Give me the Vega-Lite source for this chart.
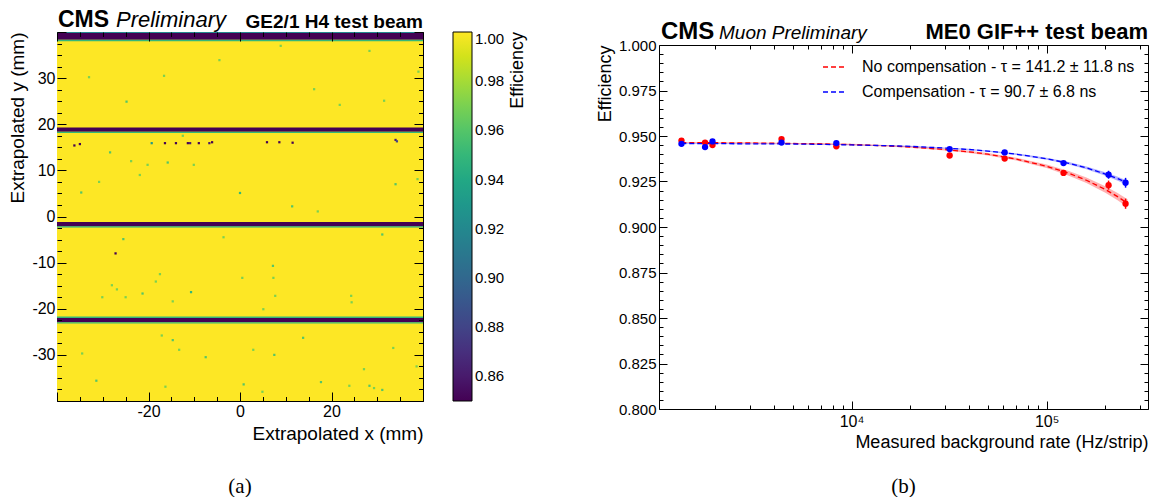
{
  "$schema": "https://vega.github.io/schema/vega-lite/v6.json",
  "padding": {"left": 8, "top": 8, "right": 0, "bottom": 0},
  "background": "#ffffff",
  "spacing": 236,
  "bounds": "flush",
  "config": {
    "font": "Liberation Sans",
    "view": {"stroke": "#000000", "strokeWidth": 1},
    "axis": {"grid": false, "domain": false, "tickColor": "#000000", "labelColor": "#000000", "titleColor": "#000000", "titleFontWeight": "normal", "labelFont": "Liberation Sans", "titleFont": "Liberation Sans", "labelOverlap": false, "labelFlush": false, "domainColor": "#000000", "domainWidth": 1},
    "legend": {"labelFont": "Liberation Sans", "titleFont": "Liberation Sans", "labelColor": "#000000", "titleColor": "#000000"}
  },
  "resolve": {"scale": {"color": "independent"}, "legend": {"color": "independent"}},
  "hconcat": [
    {
      "width": 366,
      "height": 369,
      "title": {"text": "(a)", "orient": "bottom", "font": "Liberation Serif", "fontSize": 21, "fontWeight": "normal", "color": "#000000", "offset": 32},
      "layer": [
        {
          "data": {"values": [
            {"x": -40, "x2": 40, "y": -40, "y2": 40, "eff": 1.0},
            {"x": -40, "x2": 40, "y": 38.3, "y2": 39.8, "eff": 0.85},
            {"x": -40, "x2": 40, "y": 39.8, "y2": 40.0, "eff": 0.92},
            {"x": -40, "x2": 40, "y": 38.0, "y2": 38.3, "eff": 0.95},
            {"x": -40, "x2": 40, "y": 18.4, "y2": 19.3, "eff": 0.85},
            {"x": -40, "x2": 40, "y": 18.1, "y2": 18.4, "eff": 0.95},
            {"x": -40, "x2": 40, "y": -2.1, "y2": -1.2, "eff": 0.85},
            {"x": -40, "x2": 40, "y": -2.4, "y2": -2.1, "eff": 0.94},
            {"x": -40, "x2": 40, "y": -22.9, "y2": -22.0, "eff": 0.85},
            {"x": -40, "x2": 40, "y": -22.0, "y2": -21.7, "eff": 0.95},
            {"x": -40, "x2": 40, "y": -23.2, "y2": -22.9, "eff": 0.95}
          ]},
          "mark": {"type": "rect"},
          "encoding": {
            "x": {"field": "x", "type": "quantitative", "scale": {"domain": [-40, 40], "nice": false, "zero": false},
              "axis": {"orient": "bottom", "zindex": 1, "values": [-40,-35,-30,-25,-20,-15,-10,-5,0,5,10,15,20,25,30,35,40],
                "labelExpr": "(datum.value % 20 === 0 && abs(datum.value) < 40) ? toString(datum.value) : ''",
                "tickSize": {"condition": {"test": "datum.value % 20 === 0", "value": -9}, "value": -4.5},
                "labelPadding": 11, "labelFontSize": 16, "title": "Extrapolated x (mm)", "titleFontSize": 19, "titleAnchor": "end", "titlePadding": 1}},
            "x2": {"field": "x2"},
            "y": {"field": "y", "type": "quantitative", "scale": {"domain": [-40, 40], "nice": false, "zero": false},
              "axis": {"orient": "left", "zindex": 1, "values": [-40,-37.5,-35,-32.5,-30,-27.5,-25,-22.5,-20,-17.5,-15,-12.5,-10,-7.5,-5,-2.5,0,2.5,5,7.5,10,12.5,15,17.5,20,22.5,25,27.5,30,32.5,35,37.5,40],
                "labelExpr": "(datum.value % 10 === 0 && abs(datum.value) < 40) ? toString(datum.value) : ''",
                "tickSize": {"condition": {"test": "datum.value % 10 === 0", "value": -9}, "value": -4.5},
                "labelPadding": 11, "labelFontSize": 16, "title": "Extrapolated y (mm)", "titleFontSize": 19, "titleAnchor": "end", "titlePadding": 4}},
            "y2": {"field": "y2"},
            "color": {"field": "eff", "type": "quantitative", "scale": {"scheme": "viridis", "domain": [0.85, 1.0], "clamp": true},
              "legend": {"type": "gradient", "direction": "vertical", "orient": "right", "offset": 29, "gradientLength": 369, "gradientThickness": 19, "gradientStrokeColor": "#000000", "gradientStrokeWidth": 1,
                "values": [0.86, 0.88, 0.9, 0.92, 0.94, 0.96, 0.98, 1.0], "format": ".2f", "labelFontSize": 15, "labelOffset": 3,
                "title": "Efficiency", "titleOrient": "right", "titleFontSize": 18, "titleFontWeight": "normal", "titleAnchor": "end", "titlePadding": 5,
                "encode": {"title": {"update": {"angle": {"value": -90}, "align": {"value": "right"}, "baseline": {"value": "top"}}}}}}
          }
        },
        {
          "data": {"values": [
            {"x": -36.2, "y": 15.4, "eff": 0.85}, {"x": -35.0, "y": 15.7, "eff": 0.85}, {"x": -19.3, "y": 15.9, "eff": 0.93},
            {"x": -16.4, "y": 15.9, "eff": 0.85}, {"x": -14.0, "y": 15.9, "eff": 0.85}, {"x": -11.4, "y": 15.9, "eff": 0.85},
            {"x": -10.9, "y": 15.9, "eff": 0.86}, {"x": -9.0, "y": 15.9, "eff": 0.85}, {"x": -6.7, "y": 15.9, "eff": 0.86},
            {"x": -6.1, "y": 16.1, "eff": 0.85}, {"x": 5.9, "y": 16.1, "eff": 0.85}, {"x": 8.6, "y": 16.1, "eff": 0.85},
            {"x": 11.5, "y": 16.0, "eff": 0.85}, {"x": 34.0, "y": 16.6, "eff": 0.86}, {"x": 34.3, "y": 16.3, "eff": 0.88},
            {"x": -27.2, "y": -8.0, "eff": 0.85},
            {"x": -24.8, "y": 24.9, "eff": 0.96}, {"x": -28.4, "y": 13.9, "eff": 0.96}, {"x": -33.0, "y": 30.2, "eff": 0.97},
            {"x": -30.8, "y": 7.5, "eff": 0.97}, {"x": -34.7, "y": 5.2, "eff": 0.96}, {"x": -23.8, "y": 12.0, "eff": 0.97},
            {"x": -20.2, "y": 11.2, "eff": 0.97}, {"x": -15.8, "y": 11.7, "eff": 0.96}, {"x": -10.1, "y": 11.2, "eff": 0.97},
            {"x": -21.9, "y": 9.0, "eff": 0.97}, {"x": 0.0, "y": 5.1, "eff": 0.95}, {"x": 11.4, "y": 2.2, "eff": 0.96},
            {"x": 17.0, "y": 1.1, "eff": 0.97}, {"x": 34.0, "y": 7.0, "eff": 0.96}, {"x": 38.8, "y": 8.1, "eff": 0.97},
            {"x": 39.0, "y": 31.4, "eff": 0.97}, {"x": 28.3, "y": 35.9, "eff": 0.97}, {"x": 8.9, "y": 37.0, "eff": 0.97},
            {"x": -4.5, "y": 33.9, "eff": 0.97}, {"x": -16.6, "y": 30.5, "eff": 0.97}, {"x": 16.2, "y": 27.6, "eff": 0.97},
            {"x": 21.8, "y": 24.2, "eff": 0.97}, {"x": 31.5, "y": 25.1, "eff": 0.97}, {"x": -12.5, "y": 17.5, "eff": 0.97},
            {"x": -25.5, "y": -4.9, "eff": 0.96}, {"x": 31.1, "y": -3.9, "eff": 0.96}, {"x": -3.6, "y": -4.5, "eff": 0.97},
            {"x": -17.5, "y": -12.5, "eff": 0.97}, {"x": -18.4, "y": -14.1, "eff": 0.97}, {"x": -10.7, "y": -16.4, "eff": 0.95},
            {"x": -28.0, "y": -14.9, "eff": 0.97}, {"x": -26.9, "y": -15.8, "eff": 0.97}, {"x": -30.1, "y": -17.5, "eff": 0.97},
            {"x": -25.0, "y": -17.5, "eff": 0.97}, {"x": -21.3, "y": -16.7, "eff": 0.96}, {"x": -14.7, "y": -18.4, "eff": 0.97},
            {"x": 0.5, "y": -13.3, "eff": 0.97}, {"x": 7.2, "y": -10.7, "eff": 0.96}, {"x": 7.3, "y": -13.3, "eff": 0.97},
            {"x": 7.7, "y": -17.2, "eff": 0.97}, {"x": 5.1, "y": -20.1, "eff": 0.97}, {"x": 24.3, "y": -17.2, "eff": 0.97},
            {"x": 24.4, "y": -18.6, "eff": 0.97}, {"x": -17.1, "y": -25.8, "eff": 0.97}, {"x": -14.7, "y": -26.8, "eff": 0.96},
            {"x": -13.3, "y": -28.9, "eff": 0.97}, {"x": -7.5, "y": -30.5, "eff": 0.96}, {"x": 2.9, "y": -28.9, "eff": 0.97},
            {"x": 7.5, "y": -30.0, "eff": 0.96}, {"x": 13.8, "y": -26.3, "eff": 0.96}, {"x": 27.1, "y": -33.1, "eff": 0.97},
            {"x": 33.5, "y": -28.5, "eff": 0.97}, {"x": 38.6, "y": -32.5, "eff": 0.97}, {"x": -34.5, "y": -29.7, "eff": 0.97},
            {"x": -31.4, "y": -35.6, "eff": 0.96}, {"x": -16.3, "y": -36.9, "eff": 0.97}, {"x": 0.8, "y": -36.4, "eff": 0.96},
            {"x": 4.9, "y": -38.0, "eff": 0.97}, {"x": 17.7, "y": -35.9, "eff": 0.96}, {"x": 23.9, "y": -36.7, "eff": 0.97},
            {"x": 28.3, "y": -36.7, "eff": 0.96}, {"x": 29.3, "y": -37.2, "eff": 0.97}, {"x": 31.1, "y": -37.6, "eff": 0.96}
          ]},
          "mark": {"type": "square", "size": 5, "opacity": 1},
          "encoding": {
            "x": {"field": "x", "type": "quantitative",
              "axis": {"orient": "top", "zindex": 1, "values": [-40,-35,-30,-25,-20,-15,-10,-5,0,5,10,15,20,25,30,35,40], "labels": false, "title": null,
                "tickSize": {"condition": {"test": "datum.value % 20 === 0", "value": -9}, "value": -4.5}}},
            "y": {"field": "y", "type": "quantitative",
              "axis": {"orient": "right", "zindex": 1, "values": [-40,-37.5,-35,-32.5,-30,-27.5,-25,-22.5,-20,-17.5,-15,-12.5,-10,-7.5,-5,-2.5,0,2.5,5,7.5,10,12.5,15,17.5,20,22.5,25,27.5,30,32.5,35,37.5,40], "labels": false, "title": null,
                "tickSize": {"condition": {"test": "datum.value % 10 === 0", "value": -9}, "value": -4.5}}},
            "color": {"field": "eff", "type": "quantitative"}
          }
        },
        {
          "data": {"values": [{"label": "CMS", "x": -40, "y": 40}]},
          "mark": {"type": "text", "align": "left", "baseline": "alphabetic", "dx": 1, "dy": -5, "fontSize": 23, "fontWeight": "bold", "color": "#000000"},
          "encoding": {"x": {"field": "x", "type": "quantitative", "axis": null}, "y": {"field": "y", "type": "quantitative", "axis": null}, "text": {"field": "label"}}
        },
        {
          "data": {"values": [{"label": "Preliminary", "x": -40, "y": 40}]},
          "mark": {"type": "text", "align": "left", "baseline": "alphabetic", "dx": 59, "dy": -5, "fontSize": 22, "fontStyle": "italic", "color": "#000000"},
          "encoding": {"x": {"field": "x", "type": "quantitative", "axis": null}, "y": {"field": "y", "type": "quantitative", "axis": null}, "text": {"field": "label"}}
        },
        {
          "data": {"values": [{"label": "GE2/1 H4 test beam", "x": 40, "y": 40}]},
          "mark": {"type": "text", "align": "right", "baseline": "alphabetic", "dx": 0, "dy": -4, "fontSize": 19, "fontWeight": "bold", "color": "#000000"},
          "encoding": {"x": {"field": "x", "type": "quantitative", "axis": null}, "y": {"field": "y", "type": "quantitative", "axis": null}, "text": {"field": "label"}}
        }
      ],
      "resolve": {"axis": {"x": "independent", "y": "independent"}}
    },
    {
      "width": 489,
      "height": 377,
      "view": {"stroke": null},
      "title": {"text": "(b)", "orient": "bottom", "font": "Liberation Serif", "fontSize": 21, "fontWeight": "normal", "color": "#000000", "offset": 25},
      "layer": [
        {
          "data": {"name": "fit"},
          "mark": {"type": "area", "fillOpacity": 0.3},
          "encoding": {
            "x": {"field": "rate", "type": "quantitative", "scale": {"type": "log", "domain": [1030, 331000], "nice": false},
              "axis": {"orient": "bottom", "zindex": 1, "domain": true, "values": [2000,3000,4000,5000,6000,7000,8000,9000,10000,20000,30000,40000,50000,60000,70000,80000,90000,100000,200000,300000],
                "labelExpr": "datum.value === 10000 ? '10⁴' : (datum.value === 100000 ? '10⁵' : '')",
                "tickSize": {"condition": {"test": "datum.value === 10000 || datum.value === 100000", "value": -8}, "value": -4},
                "labelPadding": 12, "labelFontSize": 16, "title": "Measured background rate (Hz/strip)", "titleFontSize": 18, "titleAnchor": "end", "titlePadding": 0}},
            "y": {"field": "lo", "type": "quantitative", "scale": {"domain": [0.8, 1.0], "nice": false, "zero": false, "range": [377, 13]},
              "axis": {"orient": "left", "zindex": 1, "domain": true, "values": [0.8,0.805,0.81,0.815,0.82,0.825,0.83,0.835,0.84,0.845,0.85,0.855,0.86,0.865,0.87,0.875,0.88,0.885,0.89,0.895,0.9,0.905,0.91,0.915,0.92,0.925,0.93,0.935,0.94,0.945,0.95,0.955,0.96,0.965,0.97,0.975,0.98,0.985,0.99,0.995,1.0],
                "labelExpr": "round(datum.value * 1000) % 25 === 0 ? format(datum.value, '.3f') : ''",
                "tickSize": {"condition": {"test": "round(datum.value * 1000) % 25 === 0", "value": -8}, "value": -4},
                "labelPadding": 11, "labelFontSize": 15, "title": "Efficiency", "titleFontSize": 18, "titleAnchor": "end", "titlePadding": 4}},
            "y2": {"field": "hi"},
            "fill": {"field": "series", "type": "nominal", "scale": {"domain": ["No compensation - τ = 141.2 ± 11.8 ns", "Compensation - τ = 90.7 ± 6.8 ns"], "range": ["#ff0000", "#0000ff"]}, "legend": null}
          }
        },
        {
          "data": {"name": "fit"},
          "mark": {"type": "line", "strokeDash": [5, 3], "strokeWidth": 1.3},
          "encoding": {
            "x": {"field": "rate", "type": "quantitative",
              "axis": {"orient": "top", "zindex": 1, "domain": true, "offset": -13, "values": [2000,3000,4000,5000,6000,7000,8000,9000,10000,20000,30000,40000,50000,60000,70000,80000,90000,100000,200000,300000], "labels": false, "title": null,
                "tickSize": {"condition": {"test": "datum.value === 10000 || datum.value === 100000", "value": -8}, "value": -4}}},
            "y": {"field": "eff", "type": "quantitative",
              "axis": {"orient": "right", "zindex": 1, "domain": true, "values": [0.8,0.805,0.81,0.815,0.82,0.825,0.83,0.835,0.84,0.845,0.85,0.855,0.86,0.865,0.87,0.875,0.88,0.885,0.89,0.895,0.9,0.905,0.91,0.915,0.92,0.925,0.93,0.935,0.94,0.945,0.95,0.955,0.96,0.965,0.97,0.975,0.98,0.985,0.99,0.995,1.0], "labels": false, "title": null,
                "tickSize": {"condition": {"test": "round(datum.value * 1000) % 25 === 0", "value": -8}, "value": -4}}},
            "color": {"field": "series", "type": "nominal", "scale": {"domain": ["No compensation - τ = 141.2 ± 11.8 ns", "Compensation - τ = 90.7 ± 6.8 ns"], "range": ["#ff0000", "#0000ff"]},
              "legend": {"title": null, "orient": "none", "legendX": 163, "legendY": 23, "symbolType": "stroke", "symbolSize": 484, "symbolStrokeWidth": 1.3, "symbolDash": [5, 3], "labelFontSize": 16, "labelOffset": 16, "labelLimit": 500, "rowPadding": 5}}
          }
        },
        {
          "data": {"name": "pts"},
          "mark": {"type": "rule", "strokeWidth": 1.5},
          "encoding": {
            "x": {"field": "rate", "type": "quantitative", "axis": null},
            "y": {"field": "lo", "type": "quantitative", "axis": null},
            "y2": {"field": "hi"},
            "stroke": {"field": "series", "type": "nominal", "scale": {"domain": ["No compensation - τ = 141.2 ± 11.8 ns", "Compensation - τ = 90.7 ± 6.8 ns"], "range": ["#ff0000", "#0000ff"]}, "legend": null}
          }
        },
        {
          "data": {"name": "pts"},
          "mark": {"type": "circle", "size": 40, "opacity": 1},
          "encoding": {
            "x": {"field": "rate", "type": "quantitative", "axis": null},
            "y": {"field": "eff", "type": "quantitative", "axis": null},
            "fill": {"field": "series", "type": "nominal", "legend": null}
          }
        },
        {
          "data": {"values": [{"label": "CMS", "x": 1030, "y": 1.0}]},
          "mark": {"type": "text", "align": "left", "baseline": "alphabetic", "dx": 2, "dy": -6, "fontSize": 24, "fontWeight": "bold", "color": "#000000"},
          "encoding": {"x": {"field": "x", "type": "quantitative", "axis": null}, "y": {"field": "y", "type": "quantitative", "axis": null}, "text": {"field": "label"}}
        },
        {
          "data": {"values": [{"label": "Muon Preliminary", "x": 1030, "y": 1.0}]},
          "mark": {"type": "text", "align": "left", "baseline": "alphabetic", "dx": 60, "dy": -6, "fontSize": 19, "fontStyle": "italic", "color": "#000000"},
          "encoding": {"x": {"field": "x", "type": "quantitative", "axis": null}, "y": {"field": "y", "type": "quantitative", "axis": null}, "text": {"field": "label"}}
        },
        {
          "data": {"values": [{"label": "ME0 GIF++ test beam", "x": 331000, "y": 1.0}]},
          "mark": {"type": "text", "align": "right", "baseline": "alphabetic", "dx": 0, "dy": -6, "fontSize": 22, "fontWeight": "bold", "color": "#000000"},
          "encoding": {"x": {"field": "x", "type": "quantitative", "axis": null}, "y": {"field": "y", "type": "quantitative", "axis": null}, "text": {"field": "label"}}
        }
      ],
      "resolve": {"axis": {"x": "independent", "y": "independent"}}
    }
  ],
  "datasets": {
    "fit": [
      {"series": "No compensation - τ = 141.2 ± 11.8 ns", "rate": 1340, "eff": 0.9464, "lo": 0.9461, "hi": 0.9467},
      {"series": "No compensation - τ = 141.2 ± 11.8 ns", "rate": 2000, "eff": 0.9463, "lo": 0.9460, "hi": 0.9466},
      {"series": "No compensation - τ = 141.2 ± 11.8 ns", "rate": 3000, "eff": 0.9462, "lo": 0.9459, "hi": 0.9465},
      {"series": "No compensation - τ = 141.2 ± 11.8 ns", "rate": 5000, "eff": 0.9459, "lo": 0.9456, "hi": 0.9462},
      {"series": "No compensation - τ = 141.2 ± 11.8 ns", "rate": 7000, "eff": 0.9457, "lo": 0.9453, "hi": 0.9461},
      {"series": "No compensation - τ = 141.2 ± 11.8 ns", "rate": 10000, "eff": 0.9453, "lo": 0.9449, "hi": 0.9457},
      {"series": "No compensation - τ = 141.2 ± 11.8 ns", "rate": 15000, "eff": 0.9446, "lo": 0.9442, "hi": 0.9450},
      {"series": "No compensation - τ = 141.2 ± 11.8 ns", "rate": 20000, "eff": 0.9439, "lo": 0.9435, "hi": 0.9443},
      {"series": "No compensation - τ = 141.2 ± 11.8 ns", "rate": 30000, "eff": 0.9426, "lo": 0.9421, "hi": 0.9431},
      {"series": "No compensation - τ = 141.2 ± 11.8 ns", "rate": 40000, "eff": 0.9413, "lo": 0.9407, "hi": 0.9419},
      {"series": "No compensation - τ = 141.2 ± 11.8 ns", "rate": 50000, "eff": 0.9400, "lo": 0.9393, "hi": 0.9407},
      {"series": "No compensation - τ = 141.2 ± 11.8 ns", "rate": 70000, "eff": 0.9373, "lo": 0.9365, "hi": 0.9381},
      {"series": "No compensation - τ = 141.2 ± 11.8 ns", "rate": 100000, "eff": 0.9334, "lo": 0.9324, "hi": 0.9344},
      {"series": "No compensation - τ = 141.2 ± 11.8 ns", "rate": 130000, "eff": 0.9295, "lo": 0.9282, "hi": 0.9308},
      {"series": "No compensation - τ = 141.2 ± 11.8 ns", "rate": 160000, "eff": 0.9257, "lo": 0.9242, "hi": 0.9272},
      {"series": "No compensation - τ = 141.2 ± 11.8 ns", "rate": 200000, "eff": 0.9206, "lo": 0.9188, "hi": 0.9224},
      {"series": "No compensation - τ = 141.2 ± 11.8 ns", "rate": 230000, "eff": 0.9168, "lo": 0.9148, "hi": 0.9188},
      {"series": "No compensation - τ = 141.2 ± 11.8 ns", "rate": 260000, "eff": 0.9131, "lo": 0.9109, "hi": 0.9153},
      {"series": "Compensation - τ = 90.7 ± 6.8 ns", "rate": 1340, "eff": 0.9459, "lo": 0.9457, "hi": 0.9461},
      {"series": "Compensation - τ = 90.7 ± 6.8 ns", "rate": 2000, "eff": 0.9458, "lo": 0.9456, "hi": 0.9460},
      {"series": "Compensation - τ = 90.7 ± 6.8 ns", "rate": 3000, "eff": 0.9457, "lo": 0.9455, "hi": 0.9459},
      {"series": "Compensation - τ = 90.7 ± 6.8 ns", "rate": 5000, "eff": 0.9456, "lo": 0.9454, "hi": 0.9458},
      {"series": "Compensation - τ = 90.7 ± 6.8 ns", "rate": 7000, "eff": 0.9454, "lo": 0.9452, "hi": 0.9456},
      {"series": "Compensation - τ = 90.7 ± 6.8 ns", "rate": 10000, "eff": 0.9451, "lo": 0.9449, "hi": 0.9453},
      {"series": "Compensation - τ = 90.7 ± 6.8 ns", "rate": 15000, "eff": 0.9447, "lo": 0.9445, "hi": 0.9449},
      {"series": "Compensation - τ = 90.7 ± 6.8 ns", "rate": 20000, "eff": 0.9443, "lo": 0.9440, "hi": 0.9446},
      {"series": "Compensation - τ = 90.7 ± 6.8 ns", "rate": 30000, "eff": 0.9434, "lo": 0.9431, "hi": 0.9437},
      {"series": "Compensation - τ = 90.7 ± 6.8 ns", "rate": 40000, "eff": 0.9426, "lo": 0.9422, "hi": 0.9430},
      {"series": "Compensation - τ = 90.7 ± 6.8 ns", "rate": 50000, "eff": 0.9417, "lo": 0.9413, "hi": 0.9421},
      {"series": "Compensation - τ = 90.7 ± 6.8 ns", "rate": 70000, "eff": 0.9400, "lo": 0.9395, "hi": 0.9405},
      {"series": "Compensation - τ = 90.7 ± 6.8 ns", "rate": 100000, "eff": 0.9375, "lo": 0.9369, "hi": 0.9381},
      {"series": "Compensation - τ = 90.7 ± 6.8 ns", "rate": 130000, "eff": 0.9350, "lo": 0.9343, "hi": 0.9357},
      {"series": "Compensation - τ = 90.7 ± 6.8 ns", "rate": 160000, "eff": 0.9325, "lo": 0.9317, "hi": 0.9333},
      {"series": "Compensation - τ = 90.7 ± 6.8 ns", "rate": 200000, "eff": 0.9291, "lo": 0.9281, "hi": 0.9301},
      {"series": "Compensation - τ = 90.7 ± 6.8 ns", "rate": 230000, "eff": 0.9267, "lo": 0.9256, "hi": 0.9278},
      {"series": "Compensation - τ = 90.7 ± 6.8 ns", "rate": 260000, "eff": 0.9242, "lo": 0.9230, "hi": 0.9254}
    ],
    "pts": [
      {"series": "No compensation - τ = 141.2 ± 11.8 ns", "rate": 1343, "eff": 0.9475, "lo": 0.9469, "hi": 0.9481},
      {"series": "No compensation - τ = 141.2 ± 11.8 ns", "rate": 1774, "eff": 0.9464, "lo": 0.9458, "hi": 0.9470},
      {"series": "No compensation - τ = 141.2 ± 11.8 ns", "rate": 1937, "eff": 0.9450, "lo": 0.9444, "hi": 0.9456},
      {"series": "No compensation - τ = 141.2 ± 11.8 ns", "rate": 4375, "eff": 0.9483, "lo": 0.9477, "hi": 0.9489},
      {"series": "No compensation - τ = 141.2 ± 11.8 ns", "rate": 8357, "eff": 0.9443, "lo": 0.9437, "hi": 0.9449},
      {"series": "No compensation - τ = 141.2 ± 11.8 ns", "rate": 31830, "eff": 0.9393, "lo": 0.9386, "hi": 0.9400},
      {"series": "No compensation - τ = 141.2 ± 11.8 ns", "rate": 60950, "eff": 0.9376, "lo": 0.9368, "hi": 0.9384},
      {"series": "No compensation - τ = 141.2 ± 11.8 ns", "rate": 122100, "eff": 0.9297, "lo": 0.9285, "hi": 0.9309},
      {"series": "No compensation - τ = 141.2 ± 11.8 ns", "rate": 207800, "eff": 0.9230, "lo": 0.9205, "hi": 0.9255},
      {"series": "No compensation - τ = 141.2 ± 11.8 ns", "rate": 254000, "eff": 0.9128, "lo": 0.9100, "hi": 0.9156},
      {"series": "Compensation - τ = 90.7 ± 6.8 ns", "rate": 1343, "eff": 0.9457, "lo": 0.9451, "hi": 0.9463},
      {"series": "Compensation - τ = 90.7 ± 6.8 ns", "rate": 1774, "eff": 0.9439, "lo": 0.9433, "hi": 0.9445},
      {"series": "Compensation - τ = 90.7 ± 6.8 ns", "rate": 1937, "eff": 0.9470, "lo": 0.9464, "hi": 0.9476},
      {"series": "Compensation - τ = 90.7 ± 6.8 ns", "rate": 4375, "eff": 0.9464, "lo": 0.9458, "hi": 0.9470},
      {"series": "Compensation - τ = 90.7 ± 6.8 ns", "rate": 8357, "eff": 0.9461, "lo": 0.9455, "hi": 0.9467},
      {"series": "Compensation - τ = 90.7 ± 6.8 ns", "rate": 31830, "eff": 0.9428, "lo": 0.9421, "hi": 0.9435},
      {"series": "Compensation - τ = 90.7 ± 6.8 ns", "rate": 60950, "eff": 0.9410, "lo": 0.9402, "hi": 0.9418},
      {"series": "Compensation - τ = 90.7 ± 6.8 ns", "rate": 122100, "eff": 0.9351, "lo": 0.9339, "hi": 0.9363},
      {"series": "Compensation - τ = 90.7 ± 6.8 ns", "rate": 207800, "eff": 0.9287, "lo": 0.9265, "hi": 0.9309},
      {"series": "Compensation - τ = 90.7 ± 6.8 ns", "rate": 254000, "eff": 0.9243, "lo": 0.9216, "hi": 0.9270}
    ]
  }
}
